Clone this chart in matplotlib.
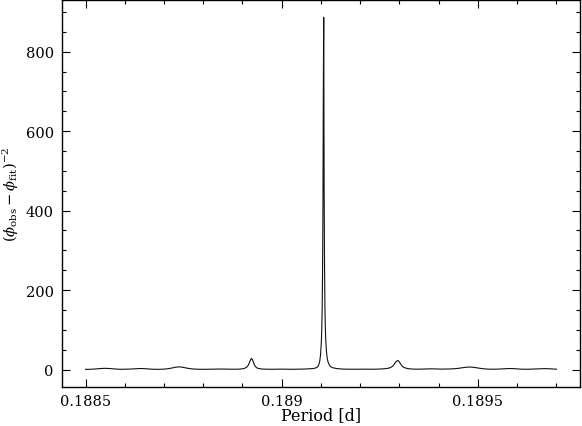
import matplotlib
matplotlib.use("Agg")
import matplotlib.pyplot as plt
from matplotlib.ticker import MultipleLocator, FuncFormatter

plt.rcParams["font.family"] = ["DejaVu Serif"]
plt.rcParams["mathtext.fontset"] = "dejavuserif"

# periodogram
period = [
    0.18850, 0.18851, 0.18852, 0.18853, 0.18854, 0.18855, 0.18856, 0.18857, 0.18858, 0.18859,
    0.18860, 0.18861, 0.18862, 0.18863, 0.18864, 0.18865, 0.18866, 0.18867, 0.18868, 0.18869,
    0.18870, 0.18871, 0.18872, 0.18873, 0.18874, 0.18875, 0.18876, 0.18877, 0.18878, 0.18879,
    0.18880, 0.18881, 0.18882, 0.18883, 0.18884, 0.18885, 0.18886, 0.18887, 0.18888, 0.18889,
    0.18890, 0.188905, 0.18891, 0.188913, 0.188915, 0.188917, 0.188919, 0.188921, 0.188923,
    0.188925, 0.188927, 0.188929, 0.188931, 0.188933, 0.188936, 0.18894, 0.18895, 0.18896,
    0.18897, 0.18898, 0.18899, 0.18900, 0.18901, 0.18902, 0.18903, 0.18904, 0.18905, 0.18906,
    0.18907, 0.18908, 0.189085, 0.18909, 0.189093, 0.189095, 0.189097, 0.189099, 0.189101,
    0.189102, 0.189103, 0.189104, 0.189105, 0.189106, 0.189107, 0.189108, 0.189109, 0.189110,
    0.189111, 0.189112, 0.189114, 0.189116, 0.189118, 0.189121, 0.189125, 0.18913, 0.18914,
    0.18915, 0.18916, 0.18917, 0.18918, 0.18919, 0.18920, 0.18921, 0.18922, 0.18923, 0.18924,
    0.18925, 0.18926, 0.18927, 0.189275, 0.18928, 0.189283, 0.189286, 0.189289, 0.189292,
    0.189296, 0.189299, 0.189302, 0.189305, 0.189308, 0.189312, 0.18932, 0.18933, 0.18934,
    0.18935, 0.18936, 0.18937, 0.18938, 0.18939, 0.18940, 0.18941, 0.18942, 0.18943, 0.18944,
    0.18945, 0.18946, 0.18947, 0.18948, 0.18949, 0.18950, 0.18951, 0.18952, 0.18953, 0.18954,
    0.18955, 0.18956, 0.18957, 0.18958, 0.18959, 0.18960, 0.18961, 0.18962, 0.18963, 0.18964,
    0.18965, 0.18966, 0.18967, 0.18968, 0.18969, 0.18970,
]
power = [
    0.5, 0.6, 1.0, 1.8, 2.6, 3.0, 2.6, 1.8, 1.0, 0.6,
    0.7, 1.0, 1.6, 2.3, 2.6, 2.2, 1.4, 0.8, 0.5, 0.6,
    1.0, 2.0, 3.8, 6.0, 6.8, 5.2, 3.2, 1.8, 1.0, 0.6,
    0.5, 0.6, 0.9, 1.2, 1.3, 1.1, 0.8, 0.6, 0.7, 1.0,
    1.8, 3.0, 5.5, 8.5, 11.5, 16, 21, 25.5, 28,
    25.5, 20.5, 15, 10.5, 7.5, 4.5, 2.8, 1.2, 0.8,
    0.6, 0.8, 1.0, 1.0, 0.8, 0.6, 0.6, 0.8, 1.0, 1.3,
    1.8, 2.5, 3.5, 5.5, 9, 14, 22, 38, 70,
    100, 150, 240, 400, 705, 886, 474, 270, 165,
    110, 78, 45, 28, 19, 12, 7, 4.5, 2.5,
    1.5, 1.0, 0.8, 0.7, 0.8, 1.0, 0.9, 0.7, 0.7, 0.9,
    1.2, 1.8, 3.0, 4.2, 6.5, 9, 12.5, 16.5, 20.5,
    23, 20, 15.5, 11, 7.5, 5, 2.5, 1.4, 1.0,
    0.9, 1.2, 1.6, 1.8, 1.5, 1.1, 1.0, 1.2, 1.5, 2.0,
    3.0, 4.4, 5.8, 6.3, 5.4, 3.8, 2.4, 1.4, 0.9, 0.8,
    1.0, 1.6, 2.3, 2.6, 2.3, 1.6, 1.0, 0.7, 0.8, 1.2,
    1.7, 2.1, 2.3, 2.0, 1.4, 0.8,
]

fig = plt.figure(figsize=(5.82, 4.27), dpi=100)
ax = fig.add_axes([0.1065, 0.0913, 0.89, 0.9064])
ax.plot(period, power, color="#111111", lw=0.8)

ax.set_xlim(0.18844, 0.18976)
ax.set_ylim(-44, 930)

ax.xaxis.set_major_locator(MultipleLocator(0.0005))
ax.xaxis.set_minor_locator(MultipleLocator(0.0001))
ax.yaxis.set_major_locator(MultipleLocator(200))
ax.yaxis.set_minor_locator(MultipleLocator(50))
ax.xaxis.set_major_formatter(FuncFormatter(lambda v, p: "%g" % round(v, 6)))
ax.yaxis.set_major_formatter(FuncFormatter(lambda v, p: "%d" % v))

ax.tick_params(which="both", direction="in", top=True, right=True, labelsize=10.5, color="black")
ax.tick_params(which="major", length=6, width=0.8, pad=6)
ax.tick_params(axis="x", which="major", pad=5)
ax.tick_params(which="minor", length=3, width=0.8)
for s in ax.spines.values():
    s.set_linewidth(1.0)

ax.set_xlabel("Period [d]", fontsize=11.5, labelpad=-1)
ax.set_ylabel(r"$(\phi_{\rm obs}-\phi_{\rm fit})^{-2}$", fontsize=10.5, labelpad=3)

fig.savefig("out.png", dpi=100)
